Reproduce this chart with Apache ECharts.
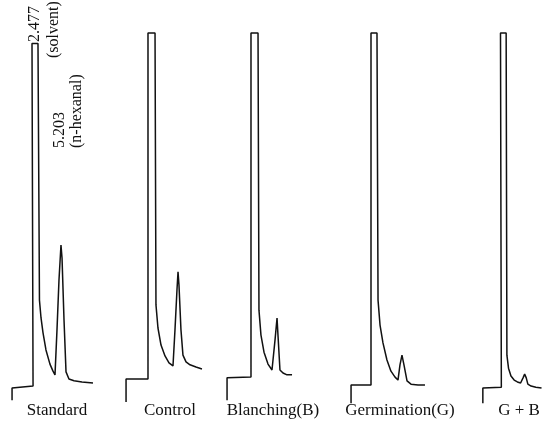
<!DOCTYPE html>
<html>
<head>
<meta charset="utf-8">
<script src="https://cdn.jsdelivr.net/npm/echarts@6/dist/echarts.min.js"></script>
<style>
html, body { margin: 0; padding: 0; background: #fff; }
#main { width: 558px; height: 425px; }
</style>
</head>
<body>
<div id="main"></div>
<script>
// sample names under each chromatogram
var sampleNames = ['Standard', 'Control', 'Blanching(B)', 'Germination(G)', 'G + B'];

// [retention time (min), detector signal (% full scale)]
var standardTrace = [[0.1, 1.3], [0.1, 4.6], [2.1, 5.1], [2.0, 97.2], [2.57, 97.2], [2.71, 28.2],
  [2.86, 23.4], [3.05, 19.4], [3.33, 14.8], [3.71, 11], [4.0, 9.1], [4.19, 8.1], [4.38, 20.2], [4.57, 33.6],
  [4.76, 43], [4.86, 39.5], [5.05, 22.8], [5.24, 8.9], [5.52, 7], [6.0, 6.5], [6.76, 6.2], [7.81, 5.9]];
var controlTrace = [[0.1, 0.8], [0.1, 7.0], [2.19, 7.0], [2.19, 100], [2.86, 100], [2.95, 26.9],
  [3.14, 20.7], [3.43, 16.1], [3.81, 13.2], [4.19, 11.3], [4.57, 10.5], [4.76, 20.2], [4.95, 30.9], [5.05, 35.8],
  [5.14, 32.3], [5.33, 20.2], [5.52, 13.4], [5.81, 11.6], [6.19, 10.8], [6.76, 10.2], [7.33, 9.7]];
var blanchingTrace = [[0.1, 1.3], [0.1, 7.3], [2.38, 7.5], [2.38, 100], [3.05, 100], [3.14, 25.5],
  [3.33, 18.8], [3.62, 14.2], [4.0, 11], [4.38, 9.4], [4.67, 17.5], [4.86, 23.4], [4.95, 18.8], [5.14, 9.4],
  [5.43, 8.6], [5.81, 8.1], [6.29, 8.1]];
var germinationTrace = [[0.1, 0.5], [0.1, 5.4], [2.0, 5.4], [2.0, 100], [2.57, 100], [2.67, 28.2],
  [2.86, 21.5], [3.14, 16.7], [3.52, 12.1], [3.9, 9.1], [4.29, 7.5], [4.57, 6.7], [4.76, 10.8], [4.95, 13.4],
  [5.14, 10.8], [5.43, 6.5], [5.81, 5.6], [6.48, 5.4], [7.14, 5.4]];
var gbTrace = [[0.1, 0.5], [0.1, 4.6], [2.29, 4.8], [2.19, 100], [2.86, 100], [2.95, 13.4],
  [3.14, 9.9], [3.43, 7.8], [3.81, 6.7], [4.19, 6.2], [4.57, 5.9], [4.86, 7.3], [5.05, 8.3], [5.24, 7.3],
  [5.43, 5.6], [5.81, 5.1], [6.38, 4.8], [7.05, 4.6]];

// peak annotations on the standard
var solventNote = ['2.477', '(solvent)'];
var hexanalNote = ['5.203', '(n-hexanal)'];

var traces = [standardTrace, controlTrace, blanchingTrace, germinationTrace, gbTrace];

var myChart = echarts.init(document.getElementById('main'));

var gridLefts = [11, 125, 226, 350, 482];
var labelCenters = [57, 170, 273, 400, 519];
var serif = '"Liberation Serif", "DejaVu Serif", serif';

var grids = [], xAxes = [], yAxes = [], series = [], texts = [];
for (var i = 0; i < traces.length; i++) {
  grids.push({ left: gridLefts[i], top: 29.3, width: 94.5, height: 375.7 });
  xAxes.push({ type: 'value', gridIndex: i, min: 0, max: 9, show: false });
  yAxes.push({ type: 'value', gridIndex: i, min: 0, max: 101, show: false });
  series.push({
    type: 'line',
    xAxisIndex: i,
    yAxisIndex: i,
    data: traces[i],
    showSymbol: false,
    clip: false,
    lineStyle: { color: '#111', width: 1.5 },
    animation: false
  });
  texts.push({
    type: 'text',
    x: labelCenters[i],
    y: 411,
    style: { text: sampleNames[i], font: '17px ' + serif, fill: '#111', align: 'center', verticalAlign: 'middle' }
  });
}

// rotated peak notes (read bottom to top)
function note(txt, x, y) {
  return {
    type: 'text', x: x, y: y, rotation: Math.PI / 2,
    style: { text: txt, font: '16px ' + serif, fill: '#111', align: 'left', verticalAlign: 'middle' }
  };
}
texts.push(note(solventNote[0], 35, 42));
texts.push(note(solventNote[1], 54, 58));
texts.push(note(hexanalNote[0], 60, 148));
texts.push(note(hexanalNote[1], 77, 148));

var option = {
  backgroundColor: '#fff',
  animation: false,
  grid: grids,
  xAxis: xAxes,
  yAxis: yAxes,
  series: series,
  graphic: texts
};

myChart.setOption(option);
</script>
</body>
</html>
